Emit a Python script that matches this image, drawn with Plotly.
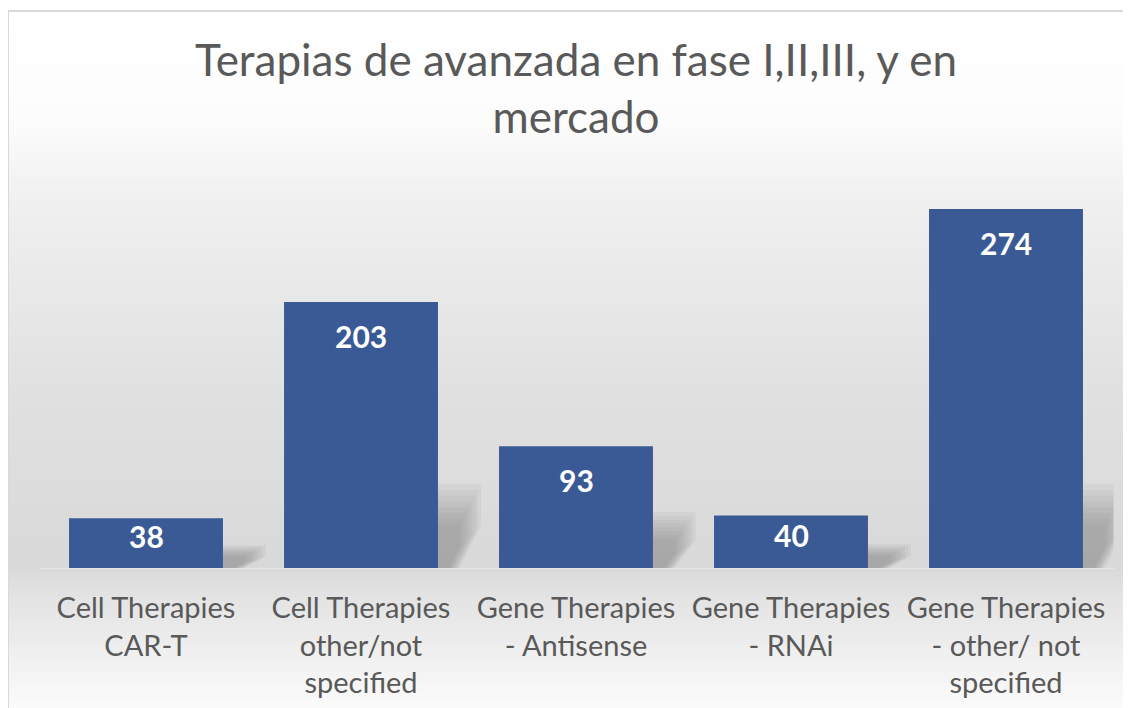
import plotly.graph_objects as go

categories = [
    "Cell Therapies<br>CAR-T",
    "Cell Therapies<br>other/not<br>specified",
    "Gene Therapies<br>- Antisense",
    "Gene Therapies<br>- RNAi",
    "Gene Therapies<br>- other/ not<br>specified",
]
values = [38, 203, 93, 40, 274]
title_text = "Terapias de avanzada en fase I,II,III, y en<br>mercado"

# page body has an 8px margin: figure pixel = screen pixel - 8
OFF = 8
W, H = 1123, 700
FONT = "Lato, 'Open Sans', sans-serif"
GREY_TEXT = "#595959"
BAR = "#3a5a95"

Y_MAX = 300
PLOT_BOTTOM, PLOT_TOP = 568, 175
PX_PER_UNIT = (PLOT_BOTTOM - PLOT_TOP) / Y_MAX


def px_x(sx):
    return (sx - OFF) / W


def px_y(sy):
    return (H - (sy - OFF)) / H


# ---- background gradient (style only), in screen pixels ----
stops = [(11, (255, 255, 255)), (120, (252, 252, 252)), (200, (240, 240, 240)),
         (400, (224, 224, 224)), (565, (217, 217, 217)), (600, (228, 228, 228)),
         (708, (251, 251, 251))]


def col_at(py):
    for (p0, c0), (p1, c1) in zip(stops[:-1], stops[1:]):
        if p0 <= py <= p1:
            t = (py - p0) / (p1 - p0)
            return "rgb(%d,%d,%d)" % tuple(round(a + (b - a) * t) for a, b in zip(c0, c1))
    return "rgb(%d,%d,%d)" % stops[-1][1]


shapes = []
n = 140
top_px, bot_px = 11, 712
step = (bot_px - top_px) / n
for i in range(n):
    p0 = top_px + i * step
    p1 = p0 + step + 0.6
    shapes.append(dict(type="rect", xref="paper", yref="paper", layer="below",
                       x0=px_x(8), x1=1.02, y0=px_y(p1), y1=px_y(p0),
                       fillcolor=col_at(p0 + step / 2), line=dict(width=0)))
# border
shapes.append(dict(type="rect", xref="paper", yref="paper", layer="below",
                   x0=px_x(8), x1=1.02, y0=-0.02, y1=px_y(11),
                   line=dict(color="#d9d9d9", width=2), fillcolor="rgba(0,0,0,0)"))

# ---- soft shadows behind bars (derived from values) ----
bw = 0.716
for i, v in enumerate(values):
    xr = i + bw / 2
    h = min(0.46 * v, 64)
    layers = 8
    for k in range(layers):
        f = 1 - k / layers * 0.55
        w = 0.2 * f
        hh = h * f
        path = (f"M {xr},0 L {xr},{hh} L {xr + w},{hh} L {xr + w},{hh * 0.5} "
                f"L {xr + w * 0.5},0 Z")
        shapes.append(dict(type="path", xref="x", yref="y", layer="below", path=path,
                           fillcolor="rgba(110,110,110,0.07)", line=dict(width=0)))

fig = go.Figure()
fig.add_trace(go.Bar(
    x=categories, y=values, width=bw,
    marker=dict(color=BAR, line=dict(width=0)),
    hoverinfo="skip",
))

# data labels: near the top of each bar, centred in short bars
annotations = []
for c, v in zip(categories, values):
    bar_px = v * PX_PER_UNIT
    off = min(34, bar_px / 2 - 7)
    annotations.append(dict(x=c, y=v, xref="x", yref="y", text=str(v), showarrow=False,
                            yanchor="middle", yshift=-off,
                            font=dict(family=FONT, size=30, color="white", weight="bold")))

fig.update_layout(
    width=W, height=H,
    margin=dict(l=0, r=0, t=0, b=0),
    paper_bgcolor="white", plot_bgcolor="rgba(0,0,0,0)",
    showlegend=False,
    shapes=shapes,
    annotations=annotations,
    title=dict(text=title_text, x=px_x(576), xanchor="center", y=px_y(76),
               yanchor="middle", xref="paper", yref="paper",
               font=dict(family=FONT, size=44, color=GREY_TEXT)),
    xaxis=dict(domain=[px_x(38.5), px_x(1113.5)], range=[-0.5, 4.5], automargin=False,
               showgrid=False, zeroline=False, showline=True, linecolor="#e6e6e6",
               linewidth=1, ticks="", ticklabelstandoff=14,
               tickfont=dict(family=FONT, size=29, color=GREY_TEXT)),
    yaxis=dict(domain=[px_y(PLOT_BOTTOM), px_y(PLOT_TOP)], range=[0, Y_MAX], automargin=False,
               showgrid=False, zeroline=False, showticklabels=False, ticks=""),
    bargap=0.284,
)

fig.write_html("out.html")
